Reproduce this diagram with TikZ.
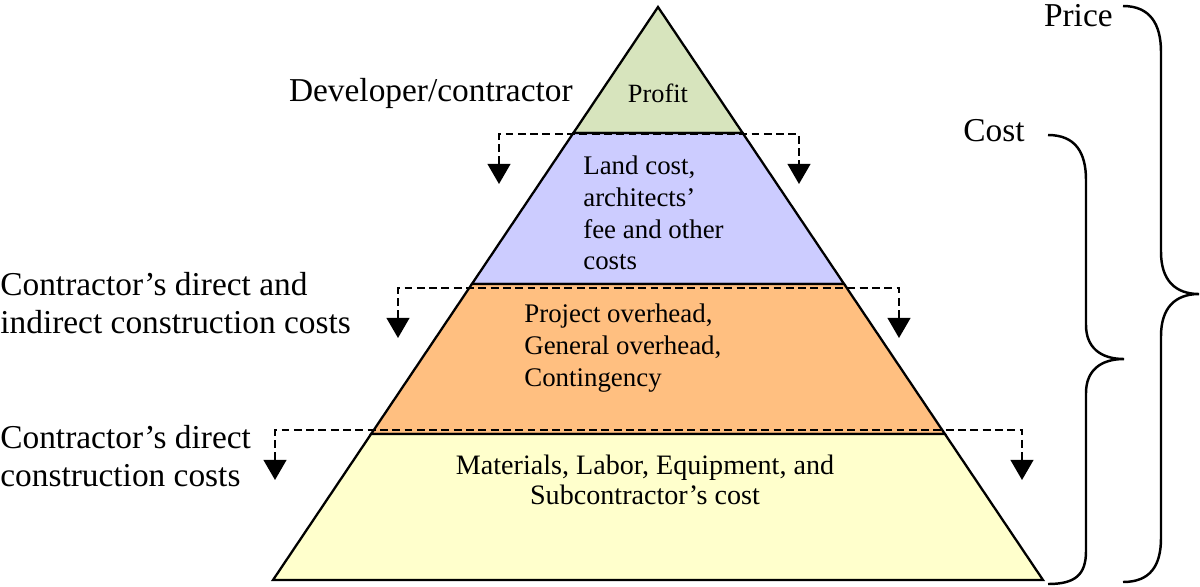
\documentclass[tikz,border=0pt]{standalone}
\usepackage{fontspec}
\setmainfont{Liberation Serif}
\usetikzlibrary{arrows.meta,calc}
\definecolor{profitgreen}{RGB}{215,228,189}
\definecolor{landblue}{RGB}{204,204,255}
\definecolor{overorange}{RGB}{255,191,128}
\definecolor{directyellow}{RGB}{255,255,204}
\begin{document}
\begin{tikzpicture}[
  x=0.02cm, y=-0.02cm,
  layer/.style={draw, line width=1.3pt, line join=miter},
  tag/.style={inner sep=0pt, align=left, font=\fontsize{19}{21.5}\selectfont},
  inlabel/.style={inner sep=0pt, align=left, font=\fontsize{15.3}{18.1}\selectfont},
  drop/.style={line width=1.2pt, dash pattern=on 4.5pt off 2.5pt,
               {Triangle[width=13pt,length=11.5pt]}-{Triangle[width=13pt,length=11.5pt]}},
  brace/.style={line width=1.4pt}
]
\useasboundingbox (0,0) rectangle (1200,586);

% pyramid corners
\coordinate (apex) at (658,7);
\coordinate (bl) at (273,580);
\coordinate (br) at (1043,580);
\coordinate (l1) at ($(apex)!0.2199!(bl)$);
\coordinate (r1) at ($(apex)!0.2199!(br)$);
\coordinate (l2) at ($(apex)!0.4834!(bl)$);
\coordinate (r2) at ($(apex)!0.4834!(br)$);
\coordinate (l3) at ($(apex)!0.7452!(bl)$);
\coordinate (r3) at ($(apex)!0.7452!(br)$);

% layers
\draw[layer, fill=profitgreen] (apex) -- (r1) -- (l1) -- cycle;
\draw[layer, fill=landblue] (l1) -- (r1) -- (r2) -- (l2) -- cycle;
\draw[layer, fill=overorange] (l2) -- (r2) -- (r3) -- (l3) -- cycle;
\draw[layer, fill=directyellow] (l3) -- (r3) -- (br) -- (bl) -- cycle;

% dashed splits
\coordinate (d1l) at (499,134);
\coordinate (d1r) at (799,134);
\coordinate (t1l) at (499,184);
\coordinate (t1r) at (799,184);
\coordinate (d2l) at (398,288);
\coordinate (d2r) at (899,288);
\coordinate (t2l) at (398,338);
\coordinate (t2r) at (899,338);
\coordinate (d3l) at (275,430);
\coordinate (d3r) at (1022,430);
\coordinate (t3l) at (275,480);
\coordinate (t3r) at (1022,480);
\draw[drop] (t1l) -- (d1l) -- (d1r) -- (t1r);
\draw[drop] (t2l) -- (d2l) -- (d2r) -- (t2r);
\draw[drop] (t3l) -- (d3l) -- (d3r) -- (t3r);

% texts inside
\node[inner sep=0pt, font=\fontsize{15}{17}\selectfont] (profit) at (658,93) {Profit};
\node[inlabel, anchor=west] (land) at (583,213) {Land cost,\\architects’\\fee and other\\costs};
\node[inlabel, anchor=west] (overhead) at (524,348) {Project overhead,\\General overhead,\\Contingency};
\node[inlabel, align=center, font=\fontsize{16}{17}\selectfont] (materials) at (645,480)
  {Materials, Labor, Equipment, and\\Subcontractor’s cost};

% texts outside
\node[tag, anchor=east] (developer) at (573,93) {Developer/contractor};
\node[tag, anchor=west] (indirect) at (0,303) {Contractor’s direct and\\indirect construction costs};
\node[tag, anchor=west] (direct) at (0,456) {Contractor’s direct\\construction costs};
\node[tag, anchor=east] (cost) at (1025,131) {Cost};
\node[tag, anchor=east] (price) at (1113,16) {Price};

% braces
\draw[brace] (1123,6) .. controls (1150,6) and (1161,24) .. (1161,52)
  -- (1161,252) .. controls (1161,280) and (1175,294) .. (1199,294)
  .. controls (1175,294) and (1161,308) .. (1161,336)
  -- (1161,538) .. controls (1161,566) and (1150,582) .. (1123,582);
\draw[brace] (1048,135) .. controls (1075,135) and (1086,152) .. (1086,180)
  -- (1086,325) .. controls (1086,347) and (1100,359) .. (1124,359)
  .. controls (1100,359) and (1086,371) .. (1086,393)
  -- (1086,551) .. controls (1086,575) and (1075,584) .. (1048,584);
\end{tikzpicture}
\end{document}
